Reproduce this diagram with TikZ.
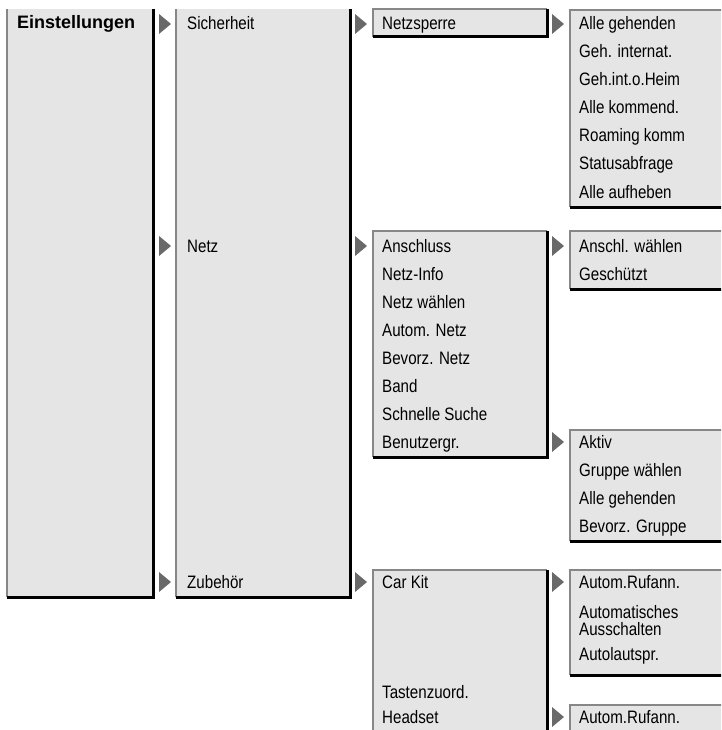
\documentclass[tikz,border=0pt]{standalone}
\usepackage{fontspec}
\setmainfont[FakeStretch=0.84]{Liberation Sans}
\newfontfamily\headfont{Liberation Sans}
\usetikzlibrary{shapes.geometric}
\definecolor{menufill}{RGB}{229,229,229}
\definecolor{litedge}{RGB}{135,135,135}
\definecolor{markgray}{RGB}{105,105,105}
\tikzset{
  menubox/.style={rectangle, fill=menufill, anchor=north west,
                  inner sep=0pt, outer sep=0pt},
  topleft/.style={draw=litedge, line width=2pt},
  botright/.style={draw=black, line width=3pt},
  entry/.style={anchor=base west, inner sep=0pt,
                font=\fontsize{18}{17}\selectfont, align=left},
  head/.style={entry, font=\headfont\fontsize{18}{20}\selectfont\bfseries},
  submark/.style={isosceles triangle, isosceles triangle stretches=true,
                  fill=markgray, anchor=west, minimum width=20pt,
                  minimum height=12pt, inner sep=0pt, outer sep=0pt},
}

\begin{document}
\begin{tikzpicture}[x=1pt, y=-1pt]
        \useasboundingbox (0,0) rectangle (721,730);
        \clip (0,0) rectangle (721,730);

        % Boxes
        \node[menubox, minimum width=146, minimum height=588] (einst) at (7,9) {};
        \node[menubox, minimum width=174, minimum height=588] (haupt) at (176,9) {};
        \node[menubox, minimum width=174, minimum height=28]  (sich)  at (373,9) {};
        \node[menubox, minimum width=170, minimum height=197] (sperre) at (570,10) {};
        \node[menubox, minimum width=174, minimum height=226] (netz)  at (373,231) {};
        \node[menubox, minimum width=170, minimum height=58]  (anschl) at (570,231) {};
        \node[menubox, minimum width=170, minimum height=111] (gruppe) at (570,430) {};
        \node[menubox, minimum width=174, minimum height=180] (zubeh) at (373,570) {};
        \node[menubox, minimum width=170, minimum height=105] (carkit) at (570,570) {};
        \node[menubox, minimum width=170, minimum height=40]  (headset) at (570,705) {};

        % Box edges: light top/left, dark bottom/right
        \foreach \b in {sich,sperre,netz,anschl,gruppe,zubeh,carkit,headset}{
          \draw[topleft]  (\b.south west) |- (\b.north east);
        }
        \foreach \b in {einst,haupt}{
          \draw[topleft]  (\b.south west) -- (\b.north west);
        }
        \foreach \b in {einst,haupt,sich,sperre,netz,anschl,gruppe,zubeh,carkit,headset}{
          \draw[botright] (\b.north east) |- (\b.south west);
        }

        % Submenu marks
        \node[submark] (mA1) at (159,24)  {};
        \node[submark] (mA2) at (159,246) {};
        \node[submark] (mA3) at (159,582) {};
        \node[submark] (mB1) at (355,24)  {};
        \node[submark] (mB2) at (355,246) {};
        \node[submark] (mB3) at (355,582) {};
        \node[submark] (mC1) at (552,24)  {};
        \node[submark] (mC2) at (552,246) {};
        \node[submark] (mC3) at (552,442) {};
        \node[submark] (mC4) at (552,582) {};
        \node[submark] (mC5) at (552,717) {};

        % Top menu
        \node[head] (tEinst) at (17,29) {Einstellungen};

        % Second level
        \node[entry] (tSich)  at (187,30)  {Sicherheit};
        \node[entry] (tNetz)  at (187,252) {Netz};
        \node[entry] (tZubeh) at (187,588) {Zubehör};

        % Sicherheit
        \node[entry] (tSperre) at (382,30) {Netzsperre};
        \node[entry] (tAlleGeh)  at (579,30)  {Alle gehenden};
        \node[entry] (tGehInt)   at (579,58)  {Geh. internat.};
        \node[entry] (tGehHeim)  at (579,86)  {Geh.int.o.Heim};
        \node[entry] (tAlleKomm) at (579,114) {Alle kommend.};
        \node[entry] (tRoam)     at (579,142) {Roaming komm};
        \node[entry] (tStatus)   at (579,170) {Statusabfrage};
        \node[entry] (tAufheb)   at (579,198) {Alle aufheben};

        % Netz
        \node[entry] (tAnschl)  at (382,252) {Anschluss};
        \node[entry] (tInfo)    at (382,280) {Netz-Info};
        \node[entry] (tWahl)    at (382,308) {Netz wählen};
        \node[entry] (tAutom)   at (382,336) {Autom. Netz};
        \node[entry] (tBevorz)  at (382,364) {Bevorz. Netz};
        \node[entry] (tBand)    at (382,392) {Band};
        \node[entry] (tSuche)   at (382,420) {Schnelle Suche};
        \node[entry] (tBenutz)  at (382,448) {Benutzergr.};
        \node[entry] (tAnWahl)  at (579,252) {Anschl. wählen};
        \node[entry] (tGesch)   at (579,280) {Geschützt};
        \node[entry] (tAktiv)   at (579,448) {Aktiv};
        \node[entry] (tGrWahl)  at (579,476) {Gruppe wählen};
        \node[entry] (tGrAlle)  at (579,504) {Alle gehenden};
        \node[entry] (tGrBev)   at (579,532) {Bevorz. Gruppe};

        % Zubehör
        \node[entry] (tCarKit)  at (382,588) {Car Kit};
        \node[entry] (tTasten)  at (382,698) {Tastenzuord.};
        \node[entry] (tHeadset) at (382,723) {Headset};
        \node[entry] (tRuf1)    at (579,588) {Autom.Rufann.};
        \node[entry, anchor=north west] (tAussch) at (579,605) {Automatisches\\Ausschalten};
        \node[entry] (tLautspr) at (579,660) {Autolautspr.};
        \node[entry] (tRuf2)    at (579,723) {Autom.Rufann.};
\end{tikzpicture}
\end{document}
